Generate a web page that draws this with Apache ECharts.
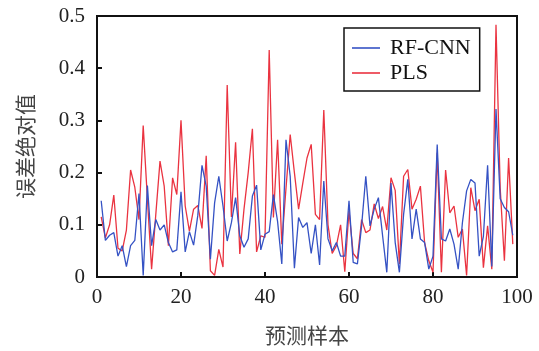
<!DOCTYPE html>
<html>
<head>
<meta charset="utf-8">
<script src="https://cdn.jsdelivr.net/npm/echarts@6/dist/echarts.min.js"></script>
<style>
html,body{margin:0;padding:0;background:#fff;}
#chart{width:539px;height:351px;}
</style>
</head>
<body>
<div id="chart"></div>
<script>
var rfcnn = [0.146,0.07,0.08,0.085,0.04,0.06,0.02,0.06,0.07,0.16,
0.003,0.175,0.06,0.11,0.09,0.10,0.066,0.048,0.052,0.163,
0.048,0.087,0.061,0.118,0.214,0.174,0.034,0.142,0.193,0.136,
0.069,0.104,0.152,0.079,0.057,0.073,0.155,0.176,0.052,0.082,
0.087,0.158,0.106,0.025,0.263,0.193,0.017,0.114,0.095,0.104,
0.045,0.10,0.023,0.184,0.073,0.05,0.066,0.04,0.04,0.146,
0.028,0.025,0.098,0.193,0.098,0.13,0.152,0.079,0.009,0.18,
0.066,0.009,0.12,0.187,0.073,0.13,0.073,0.066,0.015,0.04,
0.254,0.073,0.069,0.092,0.063,0.015,0.104,0.165,0.187,0.18,
0.04,0.078,0.214,0.02,0.322,0.15,0.133,0.125,0.08];
var pls = [0.115,0.075,0.10,0.157,0.055,0.05,0.09,0.205,0.172,0.11,
0.29,0.15,0.015,0.12,0.222,0.174,0.06,0.19,0.158,0.30,
0.136,0.088,0.13,0.137,0.093,0.232,0.012,0.003,0.053,0.019,
0.368,0.115,0.258,0.044,0.13,0.2,0.284,0.048,0.079,0.076,
0.435,0.114,0.263,0.063,0.17,0.273,0.2,0.13,0.18,0.228,
0.254,0.12,0.11,0.32,0.1,0.045,0.06,0.10,0.01,0.127,
0.045,0.035,0.11,0.085,0.09,0.14,0.112,0.135,0.09,0.19,
0.166,0.025,0.193,0.206,0.13,0.149,0.174,0.066,0.031,0.009,
0.238,0.009,0.205,0.123,0.136,0.076,0.092,0.003,0.171,0.127,
0.149,0.018,0.098,0.015,0.483,0.17,0.031,0.228,0.063];
var samples = [];
for (var i = 1; i <= rfcnn.length; i++) samples.push(i);
var seriesNames = ['RF-CNN', 'PLS'];
var xTitle = '预测样本';
var yTitle = '误差绝对值';

function pairs(arr){ return arr.map(function(v,i){ return [samples[i], v]; }); }

var chart = echarts.init(document.getElementById('chart'), null, {renderer:'canvas'});
var numFont = 'Liberation Serif';
var cjkFont = 'Noto Sans CJK SC';
chart.setOption({
  backgroundColor:'#fff',
  animation:false,
  grid:{left:97,right:22,top:16,bottom:73,show:true,borderColor:'#111',borderWidth:2,backgroundColor:'transparent'},
  legend:{
    orient:'vertical', left:344, top:28,
    data:seriesNames,
    icon:'rect',
    itemWidth:28, itemHeight:1.6, itemGap:3,
    padding:[9,9,7,8],
    borderColor:'#111', borderWidth:1.5,
    textStyle:{fontFamily:numFont,fontSize:22,color:'#111',padding:[0,0,0,5],lineHeight:22}
  },
  xAxis:{
    type:'value', min:0, max:100, interval:20,
    name:xTitle, nameLocation:'middle', nameGap:48,
    nameTextStyle:{fontFamily:cjkFont,fontSize:21,color:'#444'},
    axisLine:{show:true,lineStyle:{color:'#111',width:2}},
    axisTick:{show:true,inside:true,length:5,lineStyle:{color:'#111',width:2}},
    axisLabel:{fontFamily:numFont,fontSize:21,color:'#222',margin:10},
    splitLine:{show:false}
  },
  yAxis:{
    type:'value', min:0, max:0.5, interval:0.1,
    name:yTitle, nameLocation:'middle', nameGap:61, nameRotate:90,
    nameTextStyle:{fontFamily:cjkFont,fontSize:21,color:'#444'},
    axisLine:{show:true,lineStyle:{color:'#111',width:2}},
    axisTick:{show:true,inside:true,length:5,lineStyle:{color:'#111',width:2}},
    axisLabel:{fontFamily:numFont,fontSize:21,color:'#222',margin:12},
    splitLine:{show:false}
  },
  series:[
    {name:seriesNames[0],type:'line',symbol:'none',data:pairs(rfcnn),
     lineStyle:{color:'#3552c4',width:1.3},itemStyle:{color:'#3552c4'},z:3},
    {name:seriesNames[1],type:'line',symbol:'none',data:pairs(pls),
     lineStyle:{color:'#ea3340',width:1.3},itemStyle:{color:'#ea3340'},z:2}
  ]
});
</script>
</body>
</html>
